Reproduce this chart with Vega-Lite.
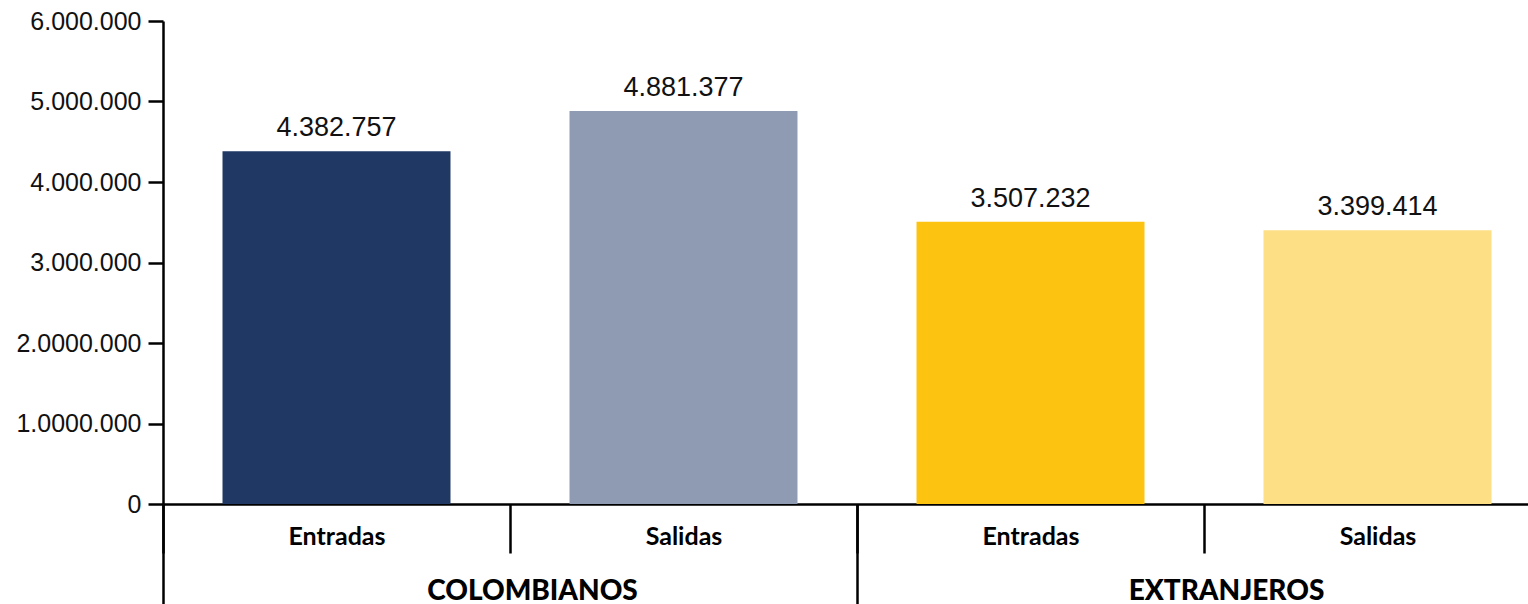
{
  "$schema": "https://vega.github.io/schema/vega-lite/v6.json",
  "width": 1365,
  "height": 483,
  "autosize": {"type": "none"},
  "padding": {"left": 163, "top": 21, "right": 0, "bottom": 100},
  "background": "white",
  "config": {
    "view": {"stroke": null},
    "font": "Liberation Sans",
    "locale": {"number": {"decimal": ",", "thousands": ".", "grouping": [3], "currency": ["$", ""]}}
  },
  "data": {
    "values": [
      {"id": "COLOMBIANOS|Entradas", "grupo": "COLOMBIANOS", "tipo": "Entradas", "valor": 4382757},
      {"id": "COLOMBIANOS|Salidas", "grupo": "COLOMBIANOS", "tipo": "Salidas", "valor": 4881377},
      {"id": "EXTRANJEROS|Entradas", "grupo": "EXTRANJEROS", "tipo": "Entradas", "valor": 3507232},
      {"id": "EXTRANJEROS|Salidas", "grupo": "EXTRANJEROS", "tipo": "Salidas", "valor": 3399414}
    ]
  },
  "layer": [
    {
      "encoding": {
        "x": {
          "field": "id",
          "type": "nominal",
          "sort": null,
          "scale": {"range": [0, 1388], "paddingInner": 0, "paddingOuter": 0},
          "axis": {
            "title": null,
            "orient": "bottom",
            "tickBand": "extent",
            "tickSize": 49,
            "tickWidth": 2.5,
            "tickColor": "#000",
            "domainColor": "#000",
            "domainWidth": 2.5,
            "labelExpr": "split(datum.value, '|')[1]",
            "labelFont": "Lato",
            "labelFontWeight": "bold",
            "labelFontSize": 25,
            "labelPadding": -29,
            "labelAngle": 0,
            "labelColor": "#000"
          }
        },
        "y": {
          "field": "valor",
          "type": "quantitative",
          "scale": {"domain": [0, 6000000], "nice": false},
          "axis": {
            "title": null,
            "values": [0, 1000000, 2000000, 3000000, 4000000, 5000000, 6000000],
            "format": ",d",
            "labelExpr": "datum.value == 2000000 ? '2.0000.000' : datum.value == 1000000 ? '1.0000.000' : datum.label",
            "labelFont": "Liberation Sans",
            "labelFontSize": 25,
            "labelColor": "#111",
            "labelPadding": 7,
            "tickSize": 15,
            "tickWidth": 2.5,
            "tickColor": "#000",
            "domainColor": "#000",
            "domainWidth": 2.5,
            "grid": false
          }
        }
      },
      "layer": [
        {
          "mark": {"type": "bar", "width": {"band": 0.657}},
          "encoding": {
            "color": {
              "field": "id",
              "type": "nominal",
              "sort": null,
              "scale": {
                "domain": ["COLOMBIANOS|Entradas", "COLOMBIANOS|Salidas", "EXTRANJEROS|Entradas", "EXTRANJEROS|Salidas"],
                "range": ["#203864", "#8f9bb3", "#fcc310", "#fddf86"]
              },
              "legend": null
            }
          }
        },
        {
          "mark": {"type": "text", "dy": -15, "baseline": "alphabetic", "fontSize": 27, "font": "Liberation Sans", "color": "#111"},
          "encoding": {
            "text": {"field": "valor", "type": "quantitative", "format": ",d"}
          }
        }
      ]
    },
    {
      "mark": {"type": "text", "text": ""},
      "encoding": {
        "x": {
          "field": "grupo",
          "type": "nominal",
          "sort": null,
          "scale": {"range": [0, 1388], "paddingInner": 0, "paddingOuter": 0},
          "axis": {
            "title": null,
            "orient": "bottom",
            "tickBand": "extent",
            "tickSize": 100,
            "tickWidth": 2.5,
            "tickColor": "#000",
            "domain": false,
            "labelFont": "Lato",
            "labelFontWeight": 900,
            "labelFontSize": 28,
            "labelLimit": 0,
            "labelPadding": -27,
            "labelOffset": 22,
            "labelAngle": 0,
            "labelColor": "#000"
          }
        }
      }
    }
  ],
  "resolve": {"scale": {"x": "independent"}}
}
